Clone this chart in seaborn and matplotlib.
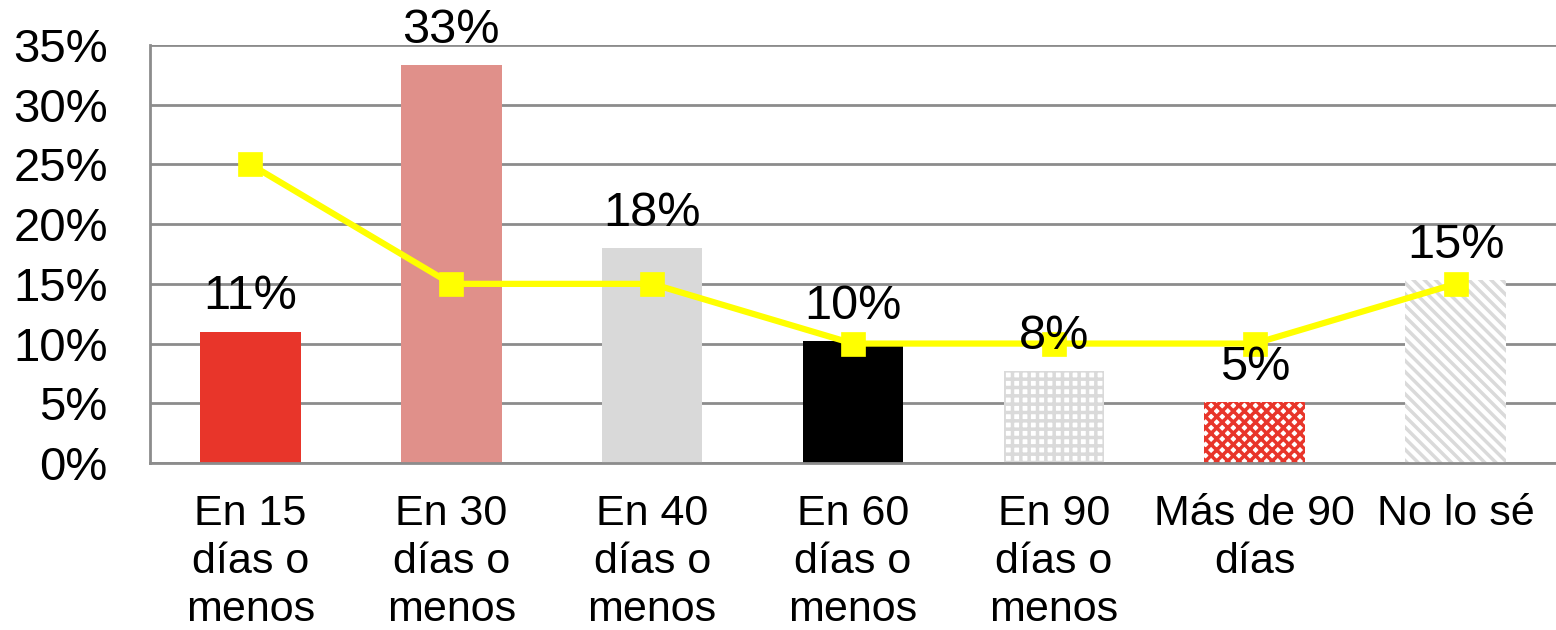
import matplotlib
matplotlib.use("Agg")
import matplotlib.pyplot as plt
import seaborn as sns
import pandas as pd
import numpy as np

categories = ["En 15\ndías o\nmenos", "En 30\ndías o\nmenos", "En 40\ndías o\nmenos",
              "En 60\ndías o\nmenos", "En 90\ndías o\nmenos", "Más de 90\ndías", "No lo sé"]
bar_values = [11.0, 33.3, 18.0, 10.2, 7.7, 5.1, 15.3]
bar_labels = ["11%", "33%", "18%", "10%", "8%", "5%", "15%"]
line_values = [25, 15, 15, 10, 10, 10, 15]
yticks = [0, 5, 10, 15, 20, 25, 30, 35]

sns.set_theme(style="white")
plt.rcParams['font.family'] = ['Liberation Sans', 'DejaVu Sans']
plt.rcParams['hatch.linewidth'] = 2.5
plt.rcParams['text.color'] = 'black'
plt.rcParams['xtick.labelcolor'] = 'black'
plt.rcParams['ytick.labelcolor'] = 'black'

fig = plt.figure(figsize=(15.56, 6.3), dpi=100)
ax = fig.add_axes([150/1556, 1-463/630, 1-150/1556, (463-45)/630])

df = pd.DataFrame({"cat": categories, "val": bar_values})
colors = ["#E8352A", "#E0908A", "#D9D9D9", "#000000", "#FFFFFF", "#FFFFFF", "#FFFFFF"]
sns.barplot(data=df, x="cat", y="val", hue="cat", palette=colors, legend=False,
            width=0.5, saturation=1, ax=ax, zorder=2)

patches = ax.patches
hatch_specs = {4: ("++", "#DADADA"), 5: ("xxx", "#E8352A"), 6: ("\\\\\\", "#DADADA")}
for i, p in enumerate(patches):
    p.set_linewidth(0)
    if i in hatch_specs:
        h, c = hatch_specs[i]
        p.set_hatch(h)
        p.set_edgecolor(c)

for i, (v, lab) in enumerate(zip(bar_values, bar_labels)):
    ax.annotate(lab, (i, v), xytext=(0, 9), textcoords="offset points",
                ha="center", va="bottom", fontsize=35, color="black", zorder=5)

sns.pointplot(x=list(range(7)), y=line_values, native_scale=True, color="#FFFF00",
              markers="s", markersize=14, linewidth=4.5, ax=ax, zorder=4, errorbar=None)

ax.set_xlim(-0.5, 6.5)
ax.set_ylim(0, 35)
ax.set_yticks(yticks)
ax.set_yticklabels([f"{t}%" for t in yticks], fontsize=34, color="black")
ax.set_xticks(range(7))
ax.set_xticklabels(categories, fontsize=31, linespacing=1.27, color="black")
ax.set_xticks(np.arange(-0.5, 7, 1), minor=True)
ax.tick_params(axis="x", which="major", length=0, pad=22)
ax.tick_params(axis="x", which="minor", length=9, width=2, color="#8C8C8C", direction="out")
ax.tick_params(axis="y", length=9.4, width=2, color="#8C8C8C", direction="out", pad=21)
ax.set_xlabel("")
ax.set_ylabel("")
ax.grid(axis="y", color="#8C8C8C", linewidth=2, zorder=0)
ax.set_axisbelow(True)
for s in ["top", "right"]:
    ax.spines[s].set_visible(False)
for s in ["left", "bottom"]:
    ax.spines[s].set_color("#8C8C8C")
    ax.spines[s].set_linewidth(2)

fig.savefig("out.png", dpi=100)
